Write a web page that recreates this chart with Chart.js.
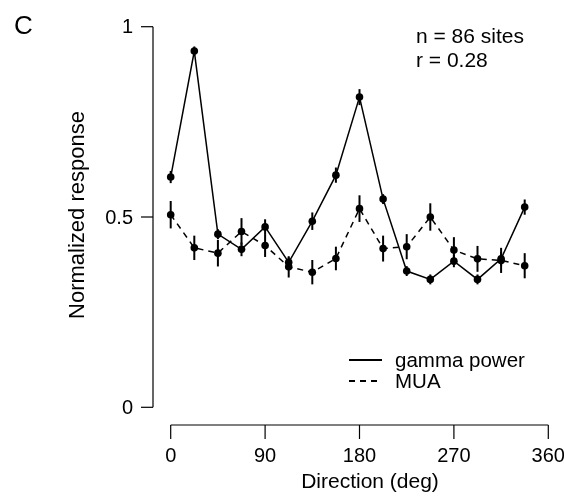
<!DOCTYPE html>
<html>
<head>
<meta charset="utf-8">
<script src="https://cdn.jsdelivr.net/npm/chart.js@4/dist/chart.umd.min.js"></script>
<style>
  html, body { margin: 0; padding: 0; background: #fff; }
  #wrap { position: relative; width: 564px; height: 498px; }
</style>
</head>
<body>
<div id="wrap"><canvas id="c" width="564" height="498"></canvas></div>
<script>
// Motion direction (deg) of the 16 stimuli
const directions = [0, 22.5, 45, 67.5, 90, 112.5, 135, 157.5, 180, 202.5, 225, 247.5, 270, 292.5, 315, 337.5];

// Normalized gamma power, mean and SEM
const gammaMean = [0.605, 0.936, 0.455, 0.415, 0.474, 0.381, 0.489, 0.610, 0.815, 0.547, 0.358, 0.336, 0.384, 0.336, 0.390, 0.526];
const gammaSem  = [0.016, 0.012, 0.013, 0.018, 0.020, 0.013, 0.023, 0.020, 0.021, 0.013, 0.013, 0.013, 0.016, 0.013, 0.018, 0.020];

// Normalized multi-unit activity, mean and SEM
const muaMean = [0.506, 0.419, 0.405, 0.462, 0.425, 0.369, 0.355, 0.391, 0.522, 0.417, 0.422, 0.500, 0.413, 0.390, 0.386, 0.372];
const muaSem  = [0.036, 0.032, 0.035, 0.035, 0.030, 0.028, 0.032, 0.031, 0.035, 0.034, 0.033, 0.036, 0.034, 0.034, 0.033, 0.033];

const xTicks = [0, 90, 180, 270, 360];
const yTicks = [0, 0.5, 1];
const yTickLabels = ['0', '0.5', '1'];

const seriesNames = ['gamma power', 'MUA'];
const annotation = ['n = 86 sites', 'r = 0.28'];

const FONT = '"Liberation Sans", Arial, Helvetica, sans-serif';

function toPoints(xs, ys) {
  return xs.map((x, i) => ({ x: x, y: ys[i] }));
}

// Vertical SEM bars for each dataset
const errorBars = {
  id: 'errorBars',
  beforeDatasetsDraw(chart) {
    const { ctx, scales: { x, y } } = chart;
    const sems = [gammaSem, muaSem];
    ctx.save();
    ctx.strokeStyle = '#000';
    ctx.lineWidth = 2;
    chart.data.datasets.forEach((ds, di) => {
      ds.data.forEach((p, i) => {
        const px = x.getPixelForValue(p.x);
        ctx.beginPath();
        ctx.moveTo(px, y.getPixelForValue(p.y - sems[di][i]));
        ctx.lineTo(px, y.getPixelForValue(p.y + sems[di][i]));
        ctx.stroke();
      });
    });
    ctx.restore();
  }
};

// Detached axes, panel letter, annotation and legend
const decorations = {
  id: 'decorations',
  afterDraw(chart) {
    const { ctx, scales: { x, y } } = chart;
    ctx.save();
    ctx.strokeStyle = '#000';
    ctx.fillStyle = '#000';
    ctx.lineWidth = 1.2;

    // y axis, offset left of the plot
    const yAxisX = 153;
    ctx.beginPath();
    ctx.moveTo(yAxisX, y.getPixelForValue(yTicks[yTicks.length - 1]));
    ctx.lineTo(yAxisX, y.getPixelForValue(yTicks[0]));
    ctx.stroke();
    ctx.font = '20px ' + FONT;
    ctx.textAlign = 'right';
    ctx.textBaseline = 'middle';
    yTicks.forEach((t, i) => {
      const py = y.getPixelForValue(t);
      ctx.beginPath();
      ctx.moveTo(yAxisX - 12, py);
      ctx.lineTo(yAxisX, py);
      ctx.stroke();
      ctx.fillText(yTickLabels[i], yAxisX - 20, py + 1);
    });

    // x axis, offset below the plot
    const xAxisY = 425;
    ctx.beginPath();
    ctx.moveTo(x.getPixelForValue(xTicks[0]), xAxisY);
    ctx.lineTo(x.getPixelForValue(xTicks[xTicks.length - 1]), xAxisY);
    ctx.stroke();
    ctx.textAlign = 'center';
    ctx.textBaseline = 'alphabetic';
    xTicks.forEach(t => {
      const px = x.getPixelForValue(t);
      ctx.beginPath();
      ctx.moveTo(px, xAxisY);
      ctx.lineTo(px, xAxisY + 14);
      ctx.stroke();
      ctx.fillText(String(t), px, 462);
    });

    // axis titles
    ctx.font = '21px ' + FONT;
    ctx.fillText('Direction (deg)', 370, 488);
    ctx.save();
    ctx.font = '22px ' + FONT;
    ctx.translate(84, 215);
    ctx.rotate(-Math.PI / 2);
    ctx.fillText('Normalized response', 0, 0);
    ctx.restore();

    // panel letter
    ctx.textAlign = 'left';
    ctx.font = '26px ' + FONT;
    ctx.fillText('C', 14, 33.5);

    // annotation
    ctx.font = '21px ' + FONT;
    ctx.fillText(annotation[0], 416, 43);
    ctx.fillText(annotation[1], 416, 67);

    // legend
    const legendRows = [360, 381];
    ctx.font = '20.5px ' + FONT;
    chart.data.datasets.forEach((ds, i) => {
      const ly = legendRows[i];
      ctx.save();
      ctx.lineWidth = 2;
      ctx.setLineDash(ds.borderDash || []);
      ctx.beginPath();
      ctx.moveTo(349, ly);
      ctx.lineTo(382, ly);
      ctx.stroke();
      ctx.restore();
      ctx.fillText(seriesNames[i], 395, ly + 6.5);
    });

    ctx.restore();
  }
};

new Chart(document.getElementById('c'), {
  type: 'line',
  data: {
    datasets: [
      {
        label: seriesNames[0],
        data: toPoints(directions, gammaMean),
        borderColor: '#000',
        backgroundColor: '#000',
        borderWidth: 1.5,
        pointRadius: 3.8,
        pointBorderWidth: 0,
        pointBackgroundColor: '#000',
        tension: 0,
        clip: false
      },
      {
        label: seriesNames[1],
        data: toPoints(directions, muaMean),
        borderColor: '#000',
        backgroundColor: '#000',
        borderWidth: 1.5,
        borderDash: [6, 5],
        pointRadius: 3.8,
        pointBorderWidth: 0,
        pointBackgroundColor: '#000',
        tension: 0,
        clip: false
      }
    ]
  },
  options: {
    responsive: false,
    animation: false,
    devicePixelRatio: 1,
    layout: { padding: { left: 170.7, right: 15.7, top: 26.7, bottom: 90.7 } },
    plugins: { legend: { display: false }, tooltip: { enabled: false } },
    scales: {
      x: { type: 'linear', min: 0, max: 360, display: false },
      y: { type: 'linear', min: 0, max: 1, display: false }
    }
  },
  plugins: [errorBars, decorations]
});
</script>
</body>
</html>
